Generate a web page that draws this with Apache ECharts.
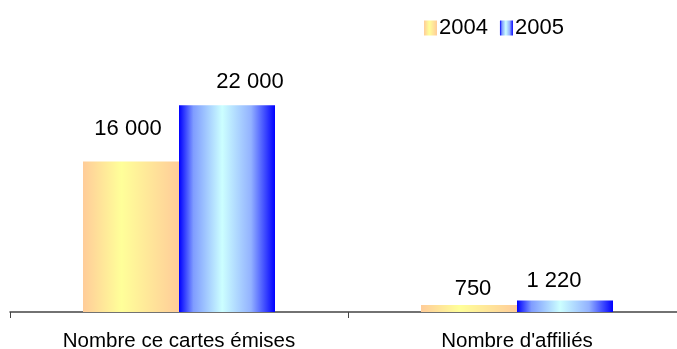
<!DOCTYPE html>
<html>
<head>
<meta charset="utf-8">
<script src="https://cdn.jsdelivr.net/npm/echarts@6/dist/echarts.min.js"></script>
<style>
  html, body { margin: 0; padding: 0; background: #fff; }
  #chart { width: 677px; height: 349px; }
</style>
</head>
<body>
<div id="chart"></div>
<script>
var categories = ["Nombre ce cartes émises", "Nombre d'affiliés"];
var seriesNames = ["2004", "2005"];
var values2004 = [16000, 750];
var values2005 = [22000, 1220];

// décalages des étiquettes [dx, dy] comme dans l'original
var labelOffsets2004 = [[-3, -22], [4, -5]];
var labelOffsets2005 = [[23, -12], [-11, -9]];

// dégradés horizontaux des barres
var grad2004 = new echarts.graphic.LinearGradient(0, 0, 1, 0, [
    { offset: 0, color: "#FFCC99" },
    { offset: 0.4, color: "#FFFF99" },
    { offset: 1, color: "#FFCC99" }
]);
var grad2005 = new echarts.graphic.LinearGradient(0, 0, 1, 0, [
    { offset: 0, color: "#0000FF" },
    { offset: 0.15, color: "#7F9CFF" },
    { offset: 0.45, color: "#CCFFFF" },
    { offset: 0.75, color: "#93B2FF" },
    { offset: 1, color: "#0000FF" }
]);

function fmt(v) {
    return String(v).replace(/\B(?=(\d{3})+(?!\d))/g, " ");
}

function withOffsets(values, offsets) {
    return values.map(function (v, i) {
        return { value: v, label: { offset: offsets[i] } };
    });
}

var labelStyle = {
    show: true,
    position: "top",
    distance: 0,
    fontSize: 22,
    color: "#000",
    formatter: function (p) { return fmt(p.value); }
};

var myChart = echarts.init(document.getElementById("chart"));
var option = {
    animation: false,
    textStyle: { fontFamily: "Liberation Sans, Arial, sans-serif" },
    legend: {
        data: seriesNames,
        icon: "rect",
        left: 419,
        top: 12,
        itemWidth: 13,
        itemHeight: 15,
        itemGap: 12,
        textStyle: { fontSize: 22, color: "#000", padding: [0, 0, 0, -3] }
    },
    grid: {
        left: 10,
        width: 676,
        top: 30,
        bottom: 37,
        containLabel: false,
        outerBoundsMode: "none"
    },
    xAxis: {
        type: "category",
        data: categories,
        axisLine: { lineStyle: { color: "#444", width: 1.5 } },
        axisTick: { show: true, length: 6, lineStyle: { color: "#444" } },
        axisLabel: { fontSize: 20.5, color: "#000", margin: 19 }
    },
    yAxis: {
        type: "value",
        min: 0,
        max: 30000,
        show: false,
        splitLine: { show: false }
    },
    series: [
        {
            name: seriesNames[0],
            type: "bar",
            data: withOffsets(values2004, labelOffsets2004),
            barWidth: 96,
            barGap: "0%",
            itemStyle: { color: grad2004 },
            label: labelStyle
        },
        {
            name: seriesNames[1],
            type: "bar",
            data: withOffsets(values2005, labelOffsets2005),
            barWidth: 96,
            itemStyle: { color: grad2005 },
            label: labelStyle
        }
    ]
};
myChart.setOption(option);
</script>
</body>
</html>
